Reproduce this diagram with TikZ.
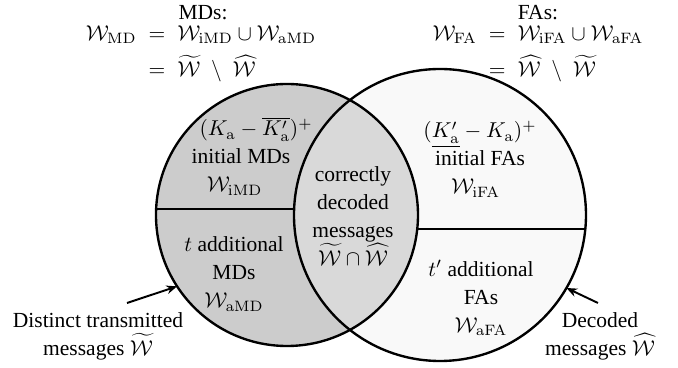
\documentclass[tikz,border=0pt]{standalone}
\usepackage{amsmath,amsfonts,amssymb}
\usepackage[no-math]{fontspec}
\setmainfont{Liberation Serif}
\usetikzlibrary{arrows.meta}

\begin{document}
\begin{tikzpicture}[scale=0.16346]
\tikzstyle{every node}+=[inner sep=0pt, align=center, font=\fontsize{10}{13}\selectfont]
\tikzstyle{venn}=[black, line width=1.1pt]
\tikzstyle{pointer}=[black, line width=0.9pt, -{Stealth[length=5pt,width=4pt]}]
\useasboundingbox (0,0) rectangle (67.8,-36.8);
\coordinate (L) at (28.7,-21.5);
\coordinate (R) at (44,-21.5);
% filled sets
\fill [gray!40] (L) circle (13.1);
\fill [gray!5] (R) circle (14.6);
\begin{scope}
\clip (L) circle (13.1);
\fill [gray!30] (R) circle (14.6);
\end{scope}
\draw [venn] (L) circle (13.1);
\draw [venn] (R) circle (14.6);
\draw [venn] (15.61,-20.9) -- (29.41,-20.9);
\draw [venn] (41.73,-22.9) -- (58.53,-22.9);
% headers
\node (mds) at (20.3,-1.3) {MDs:};
\node (mdseq) at (20.1,-5.3) {$\begin{aligned}\mathcal{W}_{\mathrm{MD}} &\;=\; \mathcal{W}_{\mathrm{iMD}} \cup \mathcal{W}_{\mathrm{aMD}}\\[-1pt]
  &\;=\; \widetilde{\mathcal{W}} \;\setminus\; \widehat{\mathcal{W}}\end{aligned}$};
\node (fas) at (53.8,-1.3) {FAs:};
\node (faseq) at (53.8,-5.3) {$\begin{aligned}\mathcal{W}_{\mathrm{FA}} &\;=\; \mathcal{W}_{\mathrm{iFA}} \cup \mathcal{W}_{\mathrm{aFA}}\\[-1pt]
  &\;=\; \widehat{\mathcal{W}} \;\setminus\; \widetilde{\mathcal{W}}\end{aligned}$};
% regions
\node (imd) at (24.1,-15.6) {\hspace*{14pt}$(K_{\mathrm{a}} - \overline{K'_{\mathrm{a}}})^+$\\ initial MDs\\ $\mathcal{W}_{\mathrm{iMD}}$\hspace*{6pt}};
\node (amd) at (23.4,-27.4) {$t$ additional\\ MDs\\ $\mathcal{W}_{\mathrm{aMD}}$};
\node (ok) at (35.3,-21.6) {correctly\\ decoded\\ messages\\ $\widetilde{\mathcal{W}} \cap \widehat{\mathcal{W}}$};
\node (ifa) at (48,-15.9) {$(\underline{K'_{\mathrm{a}}} - K_{\mathrm{a}})^+$\\ initial FAs\\ $\mathcal{W}_{\mathrm{iFA}}$\hspace*{4pt}};
\node (afa) at (48.1,-29.8) {$t'$ additional\\ FAs\\ $\mathcal{W}_{\mathrm{aFA}}$};
% set labels
\node (tx) at (9.8,-33.6) {Distinct transmitted\\ messages $\widetilde{\mathcal{W}}$};
\node (rx) at (60,-33.6) {Decoded\\ messages $\widehat{\mathcal{W}}$};
\path (L) ++(213:13.1) coordinate (txhead);
\path (R) ++(-30:14.6) coordinate (rxhead);
\coordinate (txtail) at (12.7,-30.3);
\coordinate (rxtail) at (59.8,-30.3);
\draw [pointer] (txtail) -- (txhead);
\draw [pointer] (rxtail) -- (rxhead);
\end{tikzpicture}
\end{document}
